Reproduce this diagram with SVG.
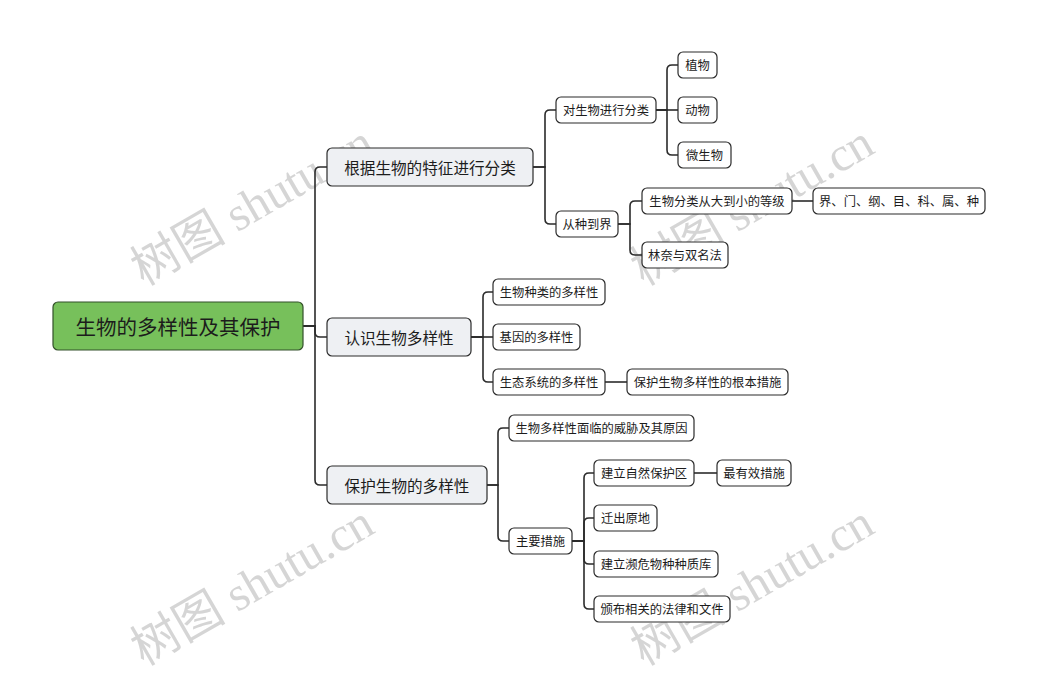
<svg xmlns="http://www.w3.org/2000/svg" width="1038" height="675" viewBox="0 0 1038 675">
<style>
.wm{font-family:"Liberation Serif","Noto Sans CJK SC",serif;font-size:48px;fill:#c8c8c8;opacity:0.75}
.c{fill:none;stroke:#2b2b2b;stroke-width:1.6}
.root rect{fill:#77c05b;stroke:#33502a;stroke-width:1.2}
.root text{font-family:"Noto Sans CJK SC",sans-serif;font-size:20.5px;fill:#1c1c1c;text-anchor:middle;dominant-baseline:central}
.l1 rect{fill:#eef0f3;stroke:#2b2b2b;stroke-width:1.2}
.l1 text{font-family:"Noto Sans CJK SC",sans-serif;font-size:15.6px;fill:#1c1c1c;text-anchor:middle;dominant-baseline:central}
.n rect{fill:#ffffff;stroke:#2b2b2b;stroke-width:1.2}
.n text{font-family:"Noto Sans CJK SC",sans-serif;font-size:12.3px;fill:#1c1c1c;text-anchor:middle;dominant-baseline:central}
</style>
<rect width="1038" height="675" fill="#ffffff"/>
<g id="watermarks">
<text class="wm" transform="translate(252,205) rotate(-30)" text-anchor="middle" dominant-baseline="central">树图 shutu.cn</text>
<text class="wm" transform="translate(752,205) rotate(-30)" text-anchor="middle" dominant-baseline="central">树图 shutu.cn</text>
<text class="wm" transform="translate(252,585) rotate(-30)" text-anchor="middle" dominant-baseline="central">树图 shutu.cn</text>
<text class="wm" transform="translate(752,585) rotate(-30)" text-anchor="middle" dominant-baseline="central">树图 shutu.cn</text>
</g>
<g id="connectors">
<path class="c" d="M303,326 H315 V172 Q315,167 320,167 H327"/>
<path class="c" d="M303,326 H315 V332 Q315,337 320,337 H327"/>
<path class="c" d="M303,326 H315 V480 Q315,485 320,485 H327"/>
<path class="c" d="M533,167 H545 V115 Q545,110 550,110 H556"/>
<path class="c" d="M533,167 H545 V219 Q545,224 550,224 H556"/>
<path class="c" d="M656,110 H667 V70 Q667,65 672,65 H678"/>
<path class="c" d="M656,110 H678"/>
<path class="c" d="M656,110 H667 V150 Q667,155 672,155 H678"/>
<path class="c" d="M618,224 H630 V206 Q630,201 635,201 H642"/>
<path class="c" d="M618,224 H630 V250 Q630,255 635,255 H642"/>
<path class="c" d="M792,201 H813"/>
<path class="c" d="M471,337 H483 V297 Q483,292 488,292 H493"/>
<path class="c" d="M471,337 H493"/>
<path class="c" d="M471,337 H483 V377 Q483,382 488,382 H493"/>
<path class="c" d="M605,382 H627"/>
<path class="c" d="M487,485 H498 V433 Q498,428 503,428 H509"/>
<path class="c" d="M487,485 H498 V536 Q498,541 503,541 H509"/>
<path class="c" d="M572,541 H584 V478 Q584,473 589,473 H594"/>
<path class="c" d="M572,541 H584 V523 Q584,518 589,518 H594"/>
<path class="c" d="M572,541 H584 V559 Q584,564 589,564 H594"/>
<path class="c" d="M572,541 H584 V604 Q584,609 589,609 H594"/>
<path class="c" d="M694,473 H717"/>
</g>
<g id="root" class="root"><rect x="53" y="302" width="250" height="48" rx="5"/><text x="178" y="326">生物的多样性及其保护</text></g>
<g id="n1" class="l1"><rect x="327" y="148" width="206" height="38" rx="5"/><text x="430" y="167">根据生物的特征进行分类</text></g>
<g id="n2" class="l1"><rect x="327" y="318" width="144" height="38" rx="5"/><text x="399" y="337">认识生物多样性</text></g>
<g id="n3" class="l1"><rect x="327" y="466" width="160" height="38" rx="5"/><text x="407" y="485">保护生物的多样性</text></g>
<g id="n1a" class="n"><rect x="556" y="97" width="100" height="26" rx="5"/><text x="606" y="110">对生物进行分类</text></g>
<g id="n1a1" class="n"><rect x="678" y="52" width="39" height="26" rx="5"/><text x="697.5" y="65">植物</text></g>
<g id="n1a2" class="n"><rect x="678" y="97" width="39" height="26" rx="5"/><text x="697.5" y="110">动物</text></g>
<g id="n1a3" class="n"><rect x="678" y="142" width="53" height="26" rx="5"/><text x="704.5" y="155">微生物</text></g>
<g id="n1b" class="n"><rect x="556" y="211" width="62" height="26" rx="5"/><text x="587" y="224">从种到界</text></g>
<g id="n1b1" class="n"><rect x="642" y="188" width="150" height="26" rx="5"/><text x="717" y="201">生物分类从大到小的等级</text></g>
<g id="n1b1a" class="n"><rect x="813" y="188" width="172" height="26" rx="5"/><text x="899" y="201">界、门、纲、目、科、属、种</text></g>
<g id="n1b2" class="n"><rect x="642" y="242" width="86" height="26" rx="5"/><text x="685" y="255">林奈与双名法</text></g>
<g id="n2a" class="n"><rect x="493" y="279" width="112" height="26" rx="5"/><text x="549" y="292">生物种类的多样性</text></g>
<g id="n2b" class="n"><rect x="493" y="324" width="87" height="26" rx="5"/><text x="536.5" y="337">基因的多样性</text></g>
<g id="n2c" class="n"><rect x="493" y="369" width="112" height="26" rx="5"/><text x="549" y="382">生态系统的多样性</text></g>
<g id="n2c1" class="n"><rect x="627" y="369" width="161" height="26" rx="5"/><text x="707.5" y="382">保护生物多样性的根本措施</text></g>
<g id="n3a" class="n"><rect x="509" y="415" width="185" height="26" rx="5"/><text x="601.5" y="428">生物多样性面临的威胁及其原因</text></g>
<g id="n3b" class="n"><rect x="509" y="528" width="63" height="26" rx="5"/><text x="540.5" y="541">主要措施</text></g>
<g id="n3b1" class="n"><rect x="594" y="460" width="100" height="26" rx="5"/><text x="644" y="473">建立自然保护区</text></g>
<g id="n3b1a" class="n"><rect x="717" y="460" width="74" height="26" rx="5"/><text x="754" y="473">最有效措施</text></g>
<g id="n3b2" class="n"><rect x="594" y="505" width="63" height="26" rx="5"/><text x="625.5" y="518">迁出原地</text></g>
<g id="n3b3" class="n"><rect x="594" y="551" width="124" height="26" rx="5"/><text x="656" y="564">建立濒危物种种质库</text></g>
<g id="n3b4" class="n"><rect x="594" y="596" width="136" height="26" rx="5"/><text x="662" y="609">颁布相关的法律和文件</text></g>
</svg>
